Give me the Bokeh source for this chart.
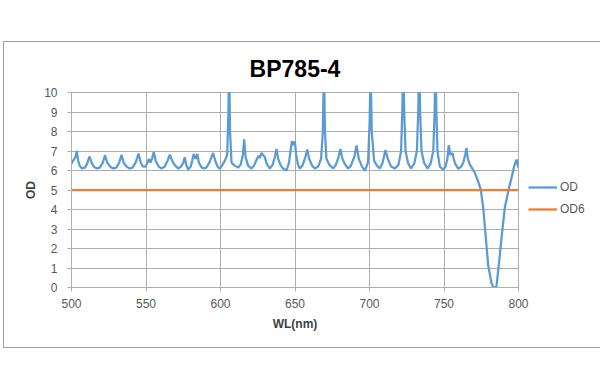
from bokeh.plotting import figure
from bokeh.models import Range1d, Legend, FixedTicker
from bokeh.embed import file_html
from bokeh.resources import INLINE

# ---- data ----
wl = [500, 501, 502, 503, 503.5, 504.5, 505.5, 507, 509, 510.5, 512, 513.5, 515, 517, 519, 521, 522.5, 524, 526, 528,
      530, 532, 533.6, 535, 537, 539, 541, 543, 545, 546.5, 548, 549.7, 551, 552, 553, 554, 555.2, 556.5, 558.5, 560.4,
      562.5, 564.5, 566, 567, 569, 571.6, 573.5, 575, 576, 577, 578.3, 580, 581, 582, 583.3, 584.4, 585.5, 587, 588.4,
      590.5, 592.5, 595, 596.5, 598, 599.5, 601, 602.9, 604.5, 605.3, 605.8, 606.4, 607.4, 609.5, 611.9, 613.5, 615,
      615.9, 616.8, 618.5, 620.8, 622.5, 624.2, 625.5, 626.4, 627.5, 628.5, 629.7, 631, 633.1, 635, 636.5, 637.6, 638.7,
      640.5, 642, 644.3, 646, 647.3, 648, 649, 649.9, 650.8, 652, 653.2, 655, 657, 658.2, 659.5, 661.5, 663.3, 665.5,
      667.5, 668.7, 669.4, 670.1, 671.1, 673, 675.6, 677.5, 679.3, 680.5, 681.8, 683.7, 685.7, 687.5, 689.8, 691.3,
      692.8, 695, 696.9, 699, 700.1, 700.7, 701.5, 703.1, 705, 706.9, 708.8, 710.7, 712.3, 714.5, 717, 719.5, 721.2,
      722, 722.6, 723.3, 724.2, 725.8, 727.7, 730, 731.8, 732.7, 733.3, 734, 734.9, 736.6, 738.9, 741, 742.8, 743.7,
      744.3, 744.9, 745.6, 747.2, 749.5, 751, 752.3, 753.2, 754.2, 755, 755.7, 756.5, 757.5, 759.6, 761.5, 762.9,
      764.2, 765.1, 766, 767.3, 769, 770.7, 772.9, 774.7, 776.3, 778.1, 779.6, 781.9, 783.2, 784.2, 785.2, 786.8,
      788.6, 790.8, 793.1, 795.3, 797.1, 798.7, 800]
od = [6.35, 6.5, 6.6, 6.75, 7.0, 6.5, 6.25, 6.1, 6.15, 6.35, 6.72, 6.4, 6.2, 6.1, 6.15, 6.4, 6.78, 6.4, 6.2, 6.1,
      6.15, 6.4, 6.8, 6.4, 6.2, 6.1, 6.15, 6.4, 6.87, 6.4, 6.2, 6.2, 6.4, 6.6, 6.4, 6.6, 6.95, 6.5, 6.2, 6.1,
      6.2, 6.5, 6.82, 6.6, 6.3, 6.1, 6.2, 6.4, 6.68, 6.3, 6.05, 6.2, 6.5, 6.85, 6.6, 6.85, 6.4, 6.2, 6.1,
      6.15, 6.4, 6.9, 6.5, 6.2, 6.1, 6.25, 6.5, 6.8, 9.0, 11.5, 8.0, 6.4, 6.25, 6.15, 6.3, 6.8,
      7.6, 6.7, 6.25, 6.1, 6.25, 6.55, 6.75, 6.65, 6.9, 6.8, 6.7, 6.35, 6.1, 6.3, 6.7, 7.1, 6.6,
      6.25, 6.1, 6.0, 6.4, 7.2, 7.5, 7.3, 7.5, 6.8, 6.3, 6.1, 6.25, 6.7, 7.08, 6.6, 6.25, 6.1, 6.2,
      6.6, 8.0, 11.5, 8.0, 6.6, 6.3, 6.1, 6.3, 6.7, 7.1, 6.6, 6.3, 6.1, 6.25, 6.7, 7.28,
      6.6, 6.2, 6.0, 6.4, 8.5, 11.5, 8.0, 6.5, 6.25, 6.1, 6.4, 7.05, 6.6, 6.2, 6.1, 6.3, 7.0,
      9.0, 11.5, 9.0, 7.0, 6.4, 6.1, 6.35, 7.0, 9.0, 11.5, 9.0, 7.0, 6.4, 6.1, 6.35, 7.0, 9.0,
      11.5, 9.0, 7.0, 6.2, 6.05, 6.2, 6.6, 7.3, 6.8, 6.85, 6.9, 6.6, 6.35, 6.08, 6.2, 6.4,
      6.8, 7.16, 6.6, 6.31, 6.1, 5.88, 5.45, 5.02, 4.08, 2.54, 1.17, 0.22, 0.0, 0.0, 0.05, 1.17,
      2.54, 4.08, 4.94, 5.62, 6.22, 6.56, 6.13]
od6_wl = [500, 800]
od6 = [5, 5]
x_ticks = [500, 550, 600, 650, 700, 750, 800]
y_ticks = [0, 1, 2, 3, 4, 5, 6, 7, 8, 9, 10]

GRID = "#ADADAD"
TXT = "#595959"
FONT = "Liberation Sans"

p = figure(output_backend="svg", toolbar_location=None,
           x_range=Range1d(500, 800), y_range=Range1d(0, 10),
           frame_width=447, frame_height=195,
           min_border_left=67, min_border_right=80, min_border_top=50, min_border_bottom=60,
           title="BP785-4")
p.styles = {"margin-left": "3px", "margin-top": "41px", "border": "1px solid #A0A0A0"}

p.title.align = "center"
p.title.text_font = FONT
p.title.text_font_size = "23px"
p.title.text_font_style = "bold"
p.title.text_color = "#000000"
p.title.standoff = 22

p.background_fill_color = "white"
p.border_fill_color = "white"
p.outline_line_color = GRID

r1 = p.line(wl, od, line_color="#5B9BD5", line_width=2.25)
r2 = p.line(od6_wl, od6, line_color="#ED7D31", line_width=2.25)

for ax in (p.xaxis[0], p.yaxis[0]):
    ax.axis_line_color = GRID
    ax.major_tick_line_color = GRID
    ax.minor_tick_line_color = None
    ax.major_tick_in = 0
    ax.major_tick_out = 4
    ax.major_label_text_font = FONT
    ax.major_label_text_font_size = "12px"
    ax.major_label_text_color = TXT
    ax.axis_label_text_font = FONT
    ax.axis_label_text_font_size = "12px"
    ax.axis_label_text_font_style = "bold"
    ax.axis_label_text_color = "#404040"

p.xaxis.ticker = FixedTicker(ticks=x_ticks)
p.yaxis.ticker = FixedTicker(ticks=y_ticks)
p.xaxis.axis_label = "WL(nm)"
p.yaxis.axis_label = "OD"
p.xaxis.major_label_standoff = 7
p.yaxis.major_label_standoff = 10
p.xaxis.axis_label_standoff = 6
p.yaxis.axis_label_standoff = 3

p.xgrid.ticker = FixedTicker(ticks=x_ticks)
p.ygrid.ticker = FixedTicker(ticks=y_ticks)
p.grid.grid_line_color = GRID
p.grid.grid_line_width = 1

legend = Legend(items=[("OD", [r1]), ("OD6", [r2])], location=(10, 68),
                border_line_color=None, background_fill_alpha=0,
                label_text_font=FONT, label_text_font_size="12px", label_text_color=TXT,
                glyph_width=29, glyph_height=20, label_height=20, spacing=2,
                label_standoff=3, margin=0, padding=6)
p.add_layout(legend, "right")

open("out.html", "w").write(file_html(p, INLINE))
